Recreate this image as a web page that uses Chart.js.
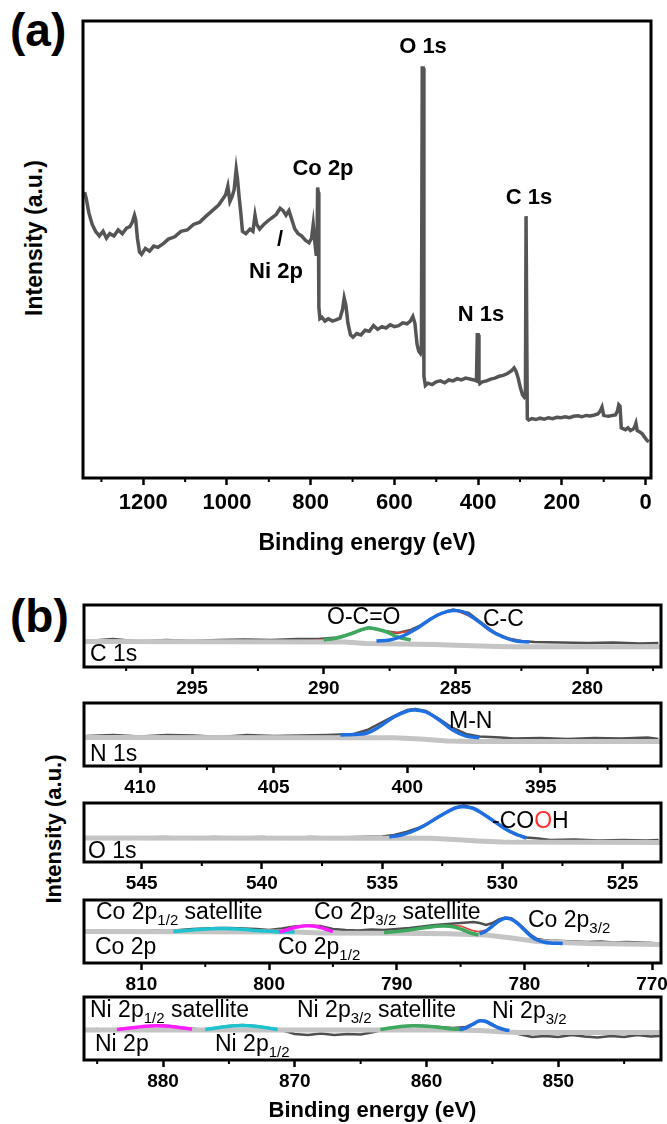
<!DOCTYPE html>
<html>
<head>
<meta charset="utf-8">
<script src="https://cdn.jsdelivr.net/npm/chart.js@4.4.1/dist/chart.umd.min.js"></script>
<style>
body { margin:0; background:#fff; width:667px; height:1124px; position:relative; overflow:hidden; font-family:"Liberation Sans", Arial, sans-serif; }
.letter { position:absolute; font-weight:bold; font-size:46px; line-height:1; color:#000; }
.ytitle { position:absolute; font-weight:bold; color:#000; white-space:nowrap; transform:translate(-50%,-50%) rotate(-90deg); }
</style>
</head>
<body>
<div class="letter" style="left:10px; top:7px;">(a)</div>
<div class="letter" style="left:10px; top:593px;">(b)</div>
<div class="ytitle" style="left:34px; top:238px; font-size:23px;">Intensity (a.u.)</div>
<div class="ytitle" style="left:54px; top:829px; font-size:22px;">Intensity (a.u.)</div>
<script>
const FONT = '"Liberation Sans", Arial, sans-serif';
Chart.defaults.font.family = FONT;

// ---- (a) survey spectrum
const surveyEnergy = [1340,1336,1330,1322,1314,1305,1296,1288,1280,1270,1260,1250,1240,1232,1226,1221,1218,1214,1209,1204,
  1195,1185,1175,1165,1150,1140,1125,1110,1095,1080,1065,1050,1035,1020,1010,1003,998,993,988,983,
  978,975,971,967,963,955,945,938,933,929,922,912,902,892,882,873,866,859,852,845,
  838,830,822,812,804,798,794,790,787,785,783.5,782,780.5,778,773,766,758,748,738,730,
  724,720,716,711,705,699,690,680,670,660,650,640,630,620,610,600,590,580,570,562,
  556,551,546,542,538,535.5,533.5,531.5,529.5,526,520,510,500,490,480,470,460,450,440,430,
  420,410,404,402,400,398,396,390,380,370,360,350,340,330,320,314,309,304,299,294,
  290,287,285.5,284,282.5,279,272,262,252,242,232,222,212,202,192,182,172,162,152,142,
  132,122,114,108,104,100,95,88,80,72,67,64,61,58,54,48,42,36,30,26,
  23,20,16,12,8,4,0,-4,-8];
const surveyCounts = [63.0,61.5,58.5,56.0,54.5,53.5,54.5,53.0,54.0,53.5,54.8,54.0,55.2,55.5,56.5,58.0,57.0,53.0,50.0,49.5,
  50.8,50.2,51.3,51.0,52.0,52.8,53.3,54.5,54.8,56.0,56.5,57.8,59.0,60.2,61.5,62.5,64.3,61.0,62.0,63.5,
  68.0,66.0,62.0,58.5,54.5,54.0,55.0,54.5,58.0,56.0,55.0,56.0,56.8,57.5,58.2,59.5,59.0,58.0,59.0,57.0,
  55.0,54.0,53.5,52.5,52.0,53.0,56.0,52.0,49.5,50.0,64.0,63.0,38.0,35.5,35.8,35.0,35.5,35.0,35.3,35.6,
  37.5,40.0,38.5,34.5,32.0,31.5,32.3,32.0,33.0,32.8,34.0,33.2,33.8,33.5,34.2,33.8,34.0,34.6,34.4,35.0,
  36.0,34.5,30.0,28.5,28.0,29.0,90.0,90.0,23.0,21.0,21.5,21.2,21.8,22.0,21.6,22.2,22.0,22.5,22.2,22.6,
  22.4,22.2,22.0,32.0,32.0,22.0,21.4,21.8,22.0,22.4,22.6,23.0,23.2,23.6,24.2,24.8,24.0,22.5,20.5,19.0,
  18.5,19.0,57.8,57.8,13.8,13.5,13.8,13.6,13.9,13.7,14.0,13.8,14.1,14.0,14.2,14.0,14.3,14.4,14.2,14.5,
  14.4,14.6,14.8,15.5,16.3,14.5,14.4,14.3,14.5,14.6,15.5,16.8,16.5,11.8,11.6,11.4,11.8,11.2,11.5,12.0,
  12.8,11.2,11.0,10.8,10.5,10.0,9.5,9.0,8.8];
const surveyMajor = [1200, 1000, 800, 600, 400, 200, 0];
const surveyMinor = [1300, 1100, 900, 700, 500, 300, 100];

// ---- (b) C 1s
const c1sRawE = [299,298,297,296,295,294,293,292,291,290.2,289.5,289,288.3,287.7,287.2,286.7,286.2,285.7,285.1,284.5,284,283.5,283,282.5,282,281,280,279,278,277.3];
const c1sRawI = [26,28,25.5,27,26,27,27.5,27,28,28,29.5,33,39.5,36,34,37,43,52,57.5,54,44,34,28.5,26,25,24.5,24,24.5,23.5,24];
const c1sBgE = [299.1,289.2,288.4,285.8,285,284,283,277.2];
const c1sBgI = [25.5,25,23.5,22.5,21.8,21,20.2,20.2];
const c1sCCE = [288,287.5,287,286.5,286,285.5,285.1,284.7,284.2,283.7,283.2,282.7,282.2];
const c1sCCI = [26,27,31,38,47,54,56.5,55,47,37,30,26,25];
const c1sOCOE = [290,289.5,289,288.6,288.3,288,287.6,287.2,286.7];
const c1sOCOI = [27,29,33,37,39,38,35,30,27];
const c1sEnvE = [290.5,289.5,288.3,287.6,287.1,286.5,285.8,285.1,284.2,283.2,282.2];
const c1sEnvI = [26.5,29,39,35.5,34.5,38,50,56.5,47,30,25];
const c1sMajor = [295, 290, 285, 280];
const c1sMinor = [297.5, 292.5, 287.5, 282.5, 277.5];

// ---- (b) N 1s
const n1sRawE = [412,411,410,409,408,407,406,405,404,403,402.5,402,401.5,401,400.5,400,399.7,399.3,398.8,398.3,397.8,397.3,396.5,396,395,394,393,392,391,390.6];
const n1sRawI = [30,31,29.5,31,30.5,29,31,30,30.5,31,31.5,32,36,43,50,56,57,55,47,38,32,29.5,28.5,27.5,28,27,28,27.5,28.5,27];
const n1sBgE = [412.1,400.5,399.5,398.5,397.5,390.5];
const n1sBgI = [28.5,28.3,27,25,24.5,24.5];
const n1sMNE = [402.5,402,401.5,401,400.5,400,399.7,399.3,398.8,398.3,397.8,397.3];
const n1sMNI = [31,31.5,33,40,49,55,56,54,46,36,30,28.5];
const n1sMajor = [410, 405, 400, 395];
const n1sMinor = [407.5, 402.5, 397.5, 392.5];

// ---- (b) O 1s
const o1sRawE = [547,546,545,544,543,542,541,540,539,538,537,536,535,534.5,534,533.5,533,532.5,532,531.6,531.2,530.8,530.3,529.8,529.4,529,528.5,528,527,526,525,524,523.5];
const o1sRawI = [24,23,24.5,25,24,25,24.5,25,24,25,24.5,25,25.5,27,30,34,40,47,54,56.5,54,48.5,40,32,27,24.5,23.5,22,22.5,21.5,22,21.5,22];
const o1sBgE = [547.4,533,532,531,530,523.4];
const o1sBgI = [24,23.8,22.5,21,20,19.5];
const o1sCOOHE = [534.7,534.2,533.7,533.2,532.8,532.3,531.9,531.6,531.2,530.8,530.3,529.8,529.4,529];
const o1sCOOHI = [25,27,31,37,43,50,54.5,55.3,53.5,48,40,32,27.5,24];
const o1sMajor = [545, 540, 535, 530, 525];
const o1sMinor = [542.5, 537.5, 532.5, 527.5];

// ---- (b) Co 2p
const co2pRawE = [814,813,812,811,810,809,808,807,806,805,804,803,802,801,800,799,798,797,796,795,794,793,792,791,790,789,788,787,786,785,784,783.5,783,782.5,782,781.5,781,780.5,780,779.5,779,778.5,778,777,776,775,774,773,772,771,770,769.5];
const co2pRawI = [31.5,32.5,31,32,31.5,32.5,32,33,34,34.5,35,35,34.5,34,33,34.5,36.5,37.5,37,34,33,32.5,33.5,33,34,35,36.5,38,39,40,41,40,38,40,43.5,45.5,44.5,40,34,28,24,23,22.5,22,21.5,21,21.5,20.5,21,20.5,20,19.5];
const co2pBgE = [814.5,798,796,790,786,783,781,779,775,769.3];
const co2pBgI = [31.5,31,30,29.7,29.3,28,25,21.5,19.5,18.5];
const co2pSat12E = [807.5,806.5,805.5,804.5,803.5,802.5,801.5,800.5,799.5,798];
const co2pSat12I = [31.5,32.5,33.5,34.3,34.5,34,33,32,31.3,31];
const co2p12E = [799.2,798.5,797.8,797,796.3,795.6,795];
const co2p12I = [31,33.5,36,37.3,36.5,34,31.5];
const co2pSat32E = [791,790,789,788,787,786.3,785.5,784.8,784.2,783.6];
const co2pSat32I = [30.5,31.5,33,35,36.5,37,36,33,30,28];
const co2p32E = [783.5,783,782.5,782,781.5,781,780.5,780,779.5,779,778.5,778,777];
const co2p32I = [29,32,37,42,44.7,43.5,39,33,27,23,21,20,19.5];
const co2pEnvE = [786,785,784.2,783.6,783];
const co2pEnvI = [37.5,37,33,31.5,33];
const co2pMajor = [810, 800, 790, 780, 770];
const co2pMinor = [805, 795, 785, 775];

// ---- (b) Ni 2p
const ni2pRawE = [886,885,884,883,882,881,880,879,878,877,876,875,874,873,872,871,870,869,868,867,866,865,864,863,862,861,860,859,858,857,856.5,856,855.5,855,854.5,854,853,852,851,850,849,848,847,846,845,844,843,842.3];
const ni2pRawI = [30,31,29.5,31,32,34,34.5,33,31.5,30.5,32,34,35,34,32,30,26,25,26.5,25,26,25.5,28,31.5,33,34.5,34,33,32,33,36,39.5,39,36,32,30,26,23,24,23,25,23.5,22.5,24,23,25,23.5,24];
const ni2pBgE = [886,858,856,854,853,842.2];
const ni2pBgI = [30,30,29.5,28,27.5,27.5];
const ni2pSat12E = [883.5,882.5,881.5,880.5,879.5,878.5,877.8];
const ni2pSat12I = [30.5,32,33.5,34.3,33.7,32,30.8];
const ni2p12E = [876.8,876,875,874,873,872,871.3];
const ni2p12I = [30.5,32,33.8,34.4,33.8,32,30.5];
const ni2pSat32E = [863.5,862.5,861.5,860.9,860,859,858,857.2];
const ni2pSat32I = [30.5,32.5,34,34.3,33.8,32.5,31,30.5];
const ni2p32E = [857.5,857,856.5,856,855.5,855,854.5,854,853.7];
const ni2p32I = [30.5,32,35.5,39,38.5,35,32,30,29.5];
const ni2pMajor = [880, 870, 860, 850];
const ni2pMinor = [885, 875, 865, 855, 845];

const RAW = '#4f4f4f', BG = '#c4c4c4', BLUE = '#1f6fe0', GREEN = '#3ea85e', MAGENTA = '#ff1cff', CYAN = '#1fc3cf', RED = '#e8413c';

function pts(e, v) { return e.map((x, i) => ({ x: x, y: v[i] })); }
function line(e, v, color, width, order, tension) {
  return { data: pts(e, v), borderColor: color, borderWidth: width, pointRadius: 0, fill: false, tension: tension || 0, order: order };
}

function drawRich(ctx, x, y, parts, size, bold, center) {
  const fontOf = p => (bold ? 'bold ' : '') + (p.sub ? Math.round(size * 0.66) : size) + 'px ' + FONT;
  let total = 0;
  parts.forEach(p => { ctx.font = fontOf(p); total += ctx.measureText(p.t).width; });
  let cx = center ? x - total / 2 : x;
  ctx.textBaseline = 'middle';
  ctx.textAlign = 'left';
  parts.forEach(p => {
    ctx.font = fontOf(p);
    ctx.fillStyle = p.c || '#000';
    ctx.fillText(p.t, cx, y + (p.sub ? size * 0.36 : 0));
    cx += ctx.measureText(p.t).width;
  });
}

const framePlugin = {
  id: 'frame',
  afterDatasetsDraw(chart, args, o) {
    const ctx = chart.ctx, a = chart.chartArea, xs = chart.scales.x;
    ctx.save();
    ctx.strokeStyle = '#000';
    ctx.lineWidth = 3;
    ctx.strokeRect(a.left, a.top, a.right - a.left, a.bottom - a.top);
    ctx.lineWidth = 2;
    o.minor.forEach(v => {
      const px = xs.getPixelForValue(v);
      ctx.beginPath(); ctx.moveTo(px, a.bottom); ctx.lineTo(px, a.bottom + 4); ctx.stroke();
    });
    o.notes.forEach(n => drawRich(ctx, n.x, n.y - o.top, n.parts, n.size, n.bold, n.center));
    ctx.restore();
  }
};

function makeChart(p) {
  const c = document.createElement('canvas');
  const h = p.pad + (p.bottom - p.top) + p.axisH;
  c.width = 667; c.height = h;
  c.style.position = 'absolute'; c.style.left = '0px'; c.style.top = (p.top - p.pad) + 'px';
  document.body.appendChild(c);
  new Chart(c, {
    type: 'line',
    data: { datasets: p.sets },
    plugins: [framePlugin],
    options: {
      responsive: false,
      animation: false,
      events: [],
      layout: { padding: { left: p.left, right: 667 - p.right, top: p.pad, bottom: 0 } },
      plugins: {
        legend: { display: false },
        tooltip: { enabled: false },
        frame: { minor: p.minor, notes: p.notes, top: p.top - p.pad }
      },
      scales: {
        x: {
          type: 'linear', reverse: true, min: p.xmin, max: p.xmax,
          afterBuildTicks: s => { s.ticks = p.major.map(v => ({ value: v })); },
          afterFit: s => { s.height = p.axisH; s.paddingLeft = 0; s.paddingRight = 0; },
          grid: { display: true, drawOnChartArea: false, drawTicks: true, tickLength: 7, tickWidth: p.tickW, tickColor: '#000' },
          border: { display: false },
          ticks: { color: '#000', autoSkip: false, maxRotation: 0, padding: p.tickPad,
                   font: { size: p.tickSize, weight: 'bold' }, callback: v => String(v) },
          title: p.title ? { display: true, text: 'Binding energy (eV)', color: '#000',
                   font: { size: p.title, weight: 'bold' }, padding: { top: 0, bottom: p.titlePad } } : { display: false }
        },
        y: { display: false, min: p.ymin, max: p.ymax }
      }
    }
  });
}

const T = s => ({ t: s });
const S = s => ({ t: s, sub: true });
const NS = 23; // annotation size in (b)

// (a)
makeChart({
  top: 21, bottom: 478, left: 83, right: 651, pad: 21, axisH: 82,
  xmin: -13, xmax: 1344, ymin: 0.9, ymax: 100.2,
  major: surveyMajor, minor: surveyMinor, tickW: 2.5, tickPad: 5, tickSize: 22, title: 23, titlePad: 3,
  sets: [line(surveyEnergy, surveyCounts, '#555555', 3.5, 0)],
  notes: [
    { x: 423, y: 47, parts: [T('O 1s')], size: 22, bold: true, center: true },
    { x: 323, y: 169, parts: [T('Co 2p')], size: 22, bold: true, center: true },
    { x: 529, y: 198, parts: [T('C 1s')], size: 22, bold: true, center: true },
    { x: 280, y: 240, parts: [T('/')], size: 22, bold: true, center: true },
    { x: 276, y: 272, parts: [T('Ni 2p')], size: 22, bold: true, center: true },
    { x: 481, y: 315, parts: [T('N 1s')], size: 22, bold: true, center: true }
  ]
});

const B = { left: 84, right: 661, pad: 10, axisH: 36, tickW: 2.5, tickPad: 3, tickSize: 19 };

// C 1s
makeChart(Object.assign({}, B, {
  top: 605, bottom: 667, xmin: 277.2, xmax: 299.1, ymin: 0, ymax: 62,
  major: c1sMajor, minor: c1sMinor,
  sets: [
    line(c1sRawE, c1sRawI, RAW, 2.5, 4),
    line(c1sEnvE, c1sEnvI, RED, 1.5, 3, 0.3),
    line(c1sBgE, c1sBgI, BG, 5, 2),
    line(c1sOCOE, c1sOCOI, GREEN, 3.5, 1, 0.4),
    line(c1sCCE, c1sCCI, BLUE, 3.5, 0, 0.4)
  ],
  notes: [
    { x: 327, y: 618, parts: [T('O-C=O')], size: NS },
    { x: 483, y: 620, parts: [T('C-C')], size: NS },
    { x: 90, y: 655, parts: [T('C 1s')], size: NS }
  ]
}));

// N 1s
makeChart(Object.assign({}, B, {
  top: 703, bottom: 766, xmin: 390.5, xmax: 412.1, ymin: 0, ymax: 63,
  major: n1sMajor, minor: n1sMinor,
  sets: [
    line(n1sRawE, n1sRawI, RAW, 2.5, 3),
    line(n1sBgE, n1sBgI, BG, 5, 2),
    line(n1sMNE, n1sMNI, BLUE, 3.5, 0, 0.4)
  ],
  notes: [
    { x: 449, y: 722, parts: [T('M-N')], size: NS },
    { x: 90, y: 755, parts: [T('N 1s')], size: NS }
  ]
}));

// O 1s
makeChart(Object.assign({}, B, {
  top: 803, bottom: 862, xmin: 523.4, xmax: 547.4, ymin: 0, ymax: 59,
  major: o1sMajor, minor: o1sMinor,
  sets: [
    line(o1sRawE, o1sRawI, RAW, 2.5, 3),
    line(o1sBgE, o1sBgI, BG, 5, 2),
    line(o1sCOOHE, o1sCOOHI, BLUE, 3.5, 0, 0.4)
  ],
  notes: [
    { x: 492, y: 822, parts: [T('-CO'), { t: 'O', c: '#ff3030' }, T('H')], size: NS },
    { x: 88, y: 852, parts: [T('O 1s')], size: NS }
  ]
}));

// Co 2p
makeChart(Object.assign({}, B, {
  top: 900, bottom: 963, xmin: 769.3, xmax: 814.5, ymin: 0, ymax: 63,
  major: co2pMajor, minor: co2pMinor,
  sets: [
    line(co2pRawE, co2pRawI, RAW, 2.5, 6),
    line(co2pEnvE, co2pEnvI, RED, 1.5, 5, 0.3),
    line(co2pBgE, co2pBgI, BG, 5, 4),
    line(co2pSat12E, co2pSat12I, CYAN, 3.5, 3, 0.4),
    line(co2p12E, co2p12I, MAGENTA, 3.5, 2, 0.4),
    line(co2pSat32E, co2pSat32I, GREEN, 3.5, 1, 0.4),
    line(co2p32E, co2p32I, BLUE, 3.5, 0, 0.4)
  ],
  notes: [
    { x: 96, y: 913, parts: [T('Co 2p'), S('1/2'), T(' satellite')], size: NS },
    { x: 314, y: 913, parts: [T('Co 2p'), S('3/2'), T(' satellite')], size: NS },
    { x: 528, y: 921, parts: [T('Co 2p'), S('3/2')], size: NS },
    { x: 95, y: 948, parts: [T('Co 2p')], size: NS },
    { x: 278, y: 948, parts: [T('Co 2p'), S('1/2')], size: NS }
  ]
}));

// Ni 2p
makeChart(Object.assign({}, B, {
  top: 997, bottom: 1060, xmin: 842.2, xmax: 886, ymin: 0, ymax: 63, axisH: 64,
  major: ni2pMajor, minor: ni2pMinor, title: 22, titlePad: 0,
  sets: [
    line(ni2pRawE, ni2pRawI, RAW, 2.5, 5),
    line(ni2pBgE, ni2pBgI, BG, 5, 4),
    line(ni2pSat12E, ni2pSat12I, MAGENTA, 3.5, 3, 0.4),
    line(ni2p12E, ni2p12I, CYAN, 3.5, 2, 0.4),
    line(ni2pSat32E, ni2pSat32I, GREEN, 3.5, 1, 0.4),
    line(ni2p32E, ni2p32I, BLUE, 3.5, 0, 0.4)
  ],
  notes: [
    { x: 90, y: 1011, parts: [T('Ni 2p'), S('1/2'), T(' satellite')], size: NS },
    { x: 297, y: 1011, parts: [T('Ni 2p'), S('3/2'), T(' satellite')], size: NS },
    { x: 492, y: 1012, parts: [T('Ni 2p'), S('3/2')], size: NS },
    { x: 95, y: 1045, parts: [T('Ni 2p')], size: NS },
    { x: 215, y: 1045, parts: [T('Ni 2p'), S('1/2')], size: NS }
  ]
}));
</script>
</body>
</html>
